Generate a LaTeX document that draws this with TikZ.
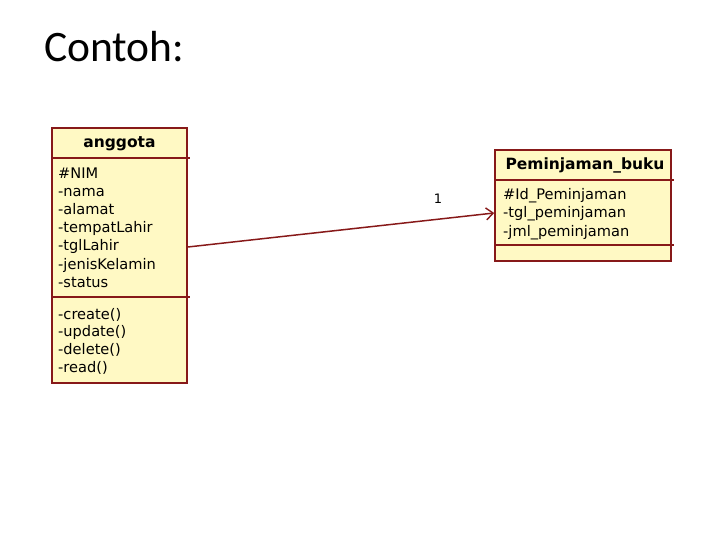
\documentclass[tikz,border=0pt]{standalone}
\usepackage{fontspec}
\setmainfont{DejaVu Sans}
\newfontfamily\calibrifont{Carlito}
\usetikzlibrary{arrows.meta}
\definecolor{umlfill}{RGB}{255,249,196}
\definecolor{umlline}{RGB}{135,25,25}
\tikzset{
  umlbox/.style={draw=umlline, fill=umlfill, line width=1.6pt, inner sep=0pt},
  umlsep/.style={draw=umlline, line width=1.5pt},
  umltitle/.style={inner sep=0pt, font=\fontsize{15.5}{18}\selectfont\bfseries},
  umlattr/.style={inner sep=0pt, anchor=west, align=left, font=\fontsize{14.6}{18.2}\selectfont},
  assoc/.style={draw=umlline, line width=1.5pt, -{Straight Barb[length=7pt,width=12pt,line width=1.4pt]}}
}
\begin{document}
\begin{tikzpicture}[x=1pt,y=-1pt]
\useasboundingbox (0,0) rectangle (720,540);
\node[anchor=base west, inner sep=0pt, font=\calibrifont\fontsize{43.5}{48}\selectfont] (title) at (44,62) {Contoh:};

% anggota class
\node[umlbox, minimum width=135pt, minimum height=255pt] (ang) at (119.5,255.5) {};
\draw[umlsep] (52,158) -- (190,158);
\draw[umlsep] (52,297) -- (190,297);
\node[umltitle] (angt) at (119.5,143.5) {anggota};
\node[umlattr] (anga) at (58,227.5) {\#NIM\\-nama\\-alamat\\-tempatLahir\\-tglLahir\\-jenisKelamin\\-status};
\node[umlattr, font=\fontsize{14.6}{17.7}\selectfont] (angm) at (58,341) {-create()\\-update()\\-delete()\\-read()};

% Peminjaman_buku class
\node[umlbox, minimum width=176pt, minimum height=111pt] (pem) at (583,205.5) {};
\draw[umlsep] (495,180) -- (674,180);
\draw[umlsep] (495,245) -- (674,245);
\node[umltitle] (pemt) at (585,165) {Peminjaman\_buku};
\node[umlattr] (pema) at (503,214) {\#Id\_Peminjaman\\-tgl\_peminjaman\\-jml\_peminjaman};

% association
\draw[assoc] ([yshift=8.5pt]ang.east) -- ([yshift=-7.5pt]pem.west);
\node[inner sep=0pt, font=\fontsize{13}{15}\selectfont] (mult) at (438,199) {1};
\end{tikzpicture}
\end{document}
